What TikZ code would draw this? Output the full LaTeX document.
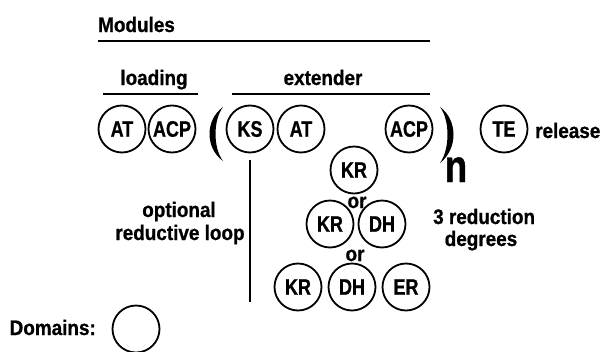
\documentclass[tikz,border=0pt]{standalone}
\usepackage{fontspec}
\setmainfont{Liberation Sans}[FakeStretch=0.9,BoldFeatures={FakeBold=0.8}]
\newfontfamily\lblfont{Liberation Sans}[FakeStretch=0.8,BoldFeatures={FakeBold=0.8}]
\begin{document}
\begin{tikzpicture}[x=1pt,y=-1pt,
  dom/.style={circle,draw,line width=1.8pt,minimum size=47pt,inner sep=0pt,
    font=\lblfont\fontsize{22.5}{22.5}\selectfont\bfseries},
  lbl/.style={inner sep=0pt,font=\fontsize{21}{22}\selectfont\bfseries},
  rule/.style={line width=1.8pt}]
\useasboundingbox (0,0) rectangle (610,351);
% headings
\node[lbl,anchor=base west] (modules) at (98,32) {Modules};
\coordinate (m1) at (98,41); \coordinate (m2) at (430,41);
\draw[rule] (m1) -- (m2);
\node[lbl,anchor=base] (loading) at (154,85) {loading};
\coordinate (l1) at (103,94); \coordinate (l2) at (198,94);
\draw[rule] (l1) -- (l2);
\node[lbl,anchor=base] (extender) at (323,85) {extender};
\coordinate (e1) at (232,94); \coordinate (e2) at (430,94);
\draw[rule] (e1) -- (e2);
% row 1
\node[dom] (at1) at (122,129) {AT};
\node[dom] (acp1) at (172,129) {ACP};
\node[dom] (ks) at (250,129) {KS};
\node[dom] (at2) at (301,129) {AT};
\node[dom] (acp2) at (409,129) {ACP};
\node[dom] (te) at (504,129) {TE};
\node[lbl,anchor=base west] (release) at (535,138) {release};
% parentheses
\fill (223,107) .. controls (205,120) and (205,148) .. (223,161)
  .. controls (213,148) and (213,120) .. (223,107) -- cycle;
\fill (440,107) .. controls (458,120) and (458,149) .. (440,163)
  .. controls (450,149) and (450,120) .. (440,107) -- cycle;
\node[inner sep=0pt,anchor=base,font=\lblfont\fontsize{46}{46}\selectfont\bfseries] (n) at (456,182) {n};
% reduction options
\node[dom] (kr1) at (354,170) {KR};
\node[lbl,anchor=base] (or1) at (357,208) {or};
\node[dom] (kr2) at (330,224) {KR};
\node[dom] (dh2) at (382,224) {DH};
\node[lbl,anchor=base] (or2) at (355,261) {or};
\node[dom] (kr3) at (298,287) {KR};
\node[dom] (dh3) at (352,287) {DH};
\node[dom] (er3) at (406,287) {ER};
% loop line
\coordinate (v1) at (250,160); \coordinate (v2) at (250,302);
\draw[line width=1.5pt] (v1) -- (v2);
\node[lbl,anchor=base] (opt) at (179,217) {optional};
\node[lbl,anchor=base] (red) at (180,240) {reductive loop};
\node[lbl,anchor=base west] (three) at (433,224) {3 reduction};
\node[lbl,anchor=base] (deg) at (481,246) {degrees};
% legend
\node[lbl,anchor=base east] (domains) at (96,335) {Domains:};
\node[dom] (legend) at (136,329) {};
\end{tikzpicture}
\end{document}
